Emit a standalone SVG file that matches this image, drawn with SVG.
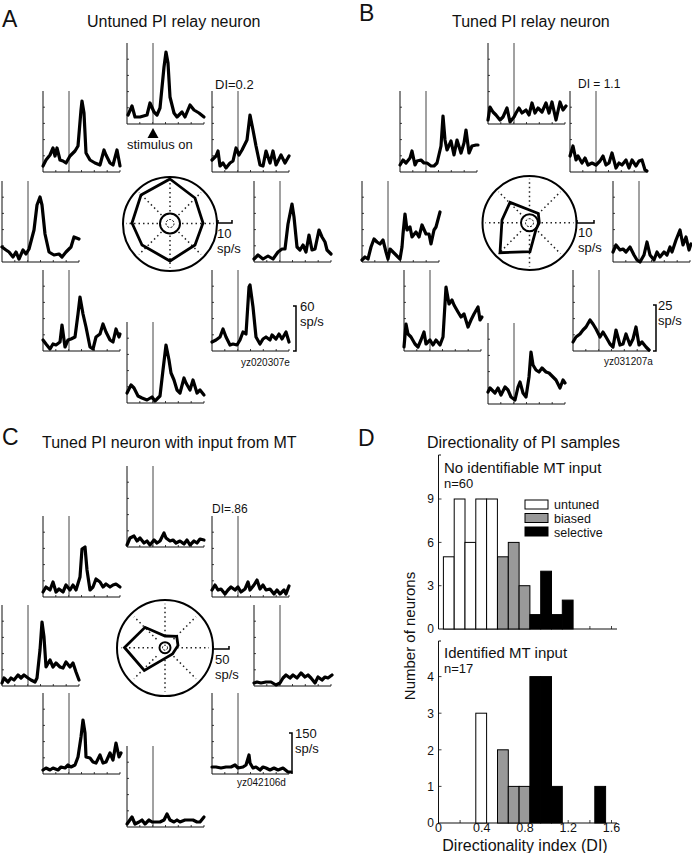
<svg xmlns="http://www.w3.org/2000/svg" xmlns:xlink="http://www.w3.org/1999/xlink" width="692" height="853" viewBox="0 0 692 853">
<style>
text{font-family:"Liberation Sans",Arial,sans-serif;fill:#111}
.big{font-size:23px}
.ttl{font-size:16px}
.lb{font-size:13px}
.sm{font-size:12px}
.id{font-size:10px}
.lg{font-size:12.5px}
.ax{fill:none;stroke:#111;stroke-width:1}
.tk{fill:none;stroke:#111;stroke-width:0.8}
.stim{fill:none;stroke:#444;stroke-width:1}
.tr{fill:none;stroke:#000;stroke-width:3.2;stroke-linejoin:round;stroke-linecap:round}
.oc{fill:none;stroke:#000;stroke-width:2}
.ic{fill:none;stroke:#000;stroke-width:2}
.dc{fill:none;stroke:#000;stroke-width:1;stroke-dasharray:2 1.5}
.dot{fill:none;stroke:#222;stroke-width:1.5;stroke-dasharray:1.5 3}
.pg{fill:none;stroke:#000;stroke-width:2.8;stroke-linejoin:miter}
.sb{fill:none;stroke:#000;stroke-width:1.5}
.bw{fill:#fff;stroke:#000;stroke-width:1}
.bg{fill:#999;stroke:#000;stroke-width:1}
.bk{fill:#000;stroke:#000;stroke-width:1}
</style>
<defs>
<g id="frame">
<path class="ax" d="M0,-81V0H77"/>
<path class="tk" d="M0,-64.8h2M0,-48.6h2M0,-32.4h2M0,-16.2h2M12.8,0v-2M25.7,0v-2M38.5,0v-2M51.3,0v-2M64.2,0v-2M77,0v-2"/>
<path class="stim" d="M26,-81V0"/>
</g>
<path id="rays" class="dot" d="M12,0H44M-12,0H-44M0,12V44M0,-12V-44M8.5,8.5L31,31M-8.5,8.5L-31,31M8.5,-8.5L31,-31M-8.5,-8.5L-31,-31"/>
</defs>

<!-- Panel A -->
<g id="panelA">
<text class="big" x="2" y="27">A</text>
<text class="ttl" x="87" y="27">Untuned PI relay neuron</text>
<g id="A-up" transform="translate(127,124)"><use xlink:href="#frame"/><polyline class="tr" points="1,-9 5,-18 8,-7 13,-7 20,-9 23,-21 27,-12 30,-9 33,-16 37,-57 39,-72 41,-61 43,-27 47,-11 50,-7 55,-12 58,-7 63,-19 67,-14 72,-11 77,-7"/></g>
<g id="A-upleft" transform="translate(43,172)"><use xlink:href="#frame"/><polyline class="tr" points="0,-6 3,-12 7,-17 10,-24 12,-16 14,-24 17,-12 20,-11 23,-9 27,-16 32,-21 35,-26 38,-62 39,-71 41,-59 43,-19 47,-12 52,-9 57,-7 61,-22 63,-17 67,-9 70,-7 74,-22 77,-6"/></g>
<g id="A-upright" transform="translate(212,172)"><use xlink:href="#frame"/><polyline class="tr" points="0,-12 4,-16 6,-21 8,-6 11,-9 14,-4 18,-9 21,-11 24,-24 27,-17 30,-22 35,-32 38,-57 41,-42 44,-26 48,-7 51,-6 54,-21 58,-9 61,-21 64,-7 69,-17 73,-9 77,-16"/></g>
<g id="A-left" transform="translate(2,262)"><use xlink:href="#frame"/><polyline class="tr" points="0,-15 4,-12 7,-10 11,-5 14,-10 17,-3 21,-12 24,-8 27,-13 32,-32 35,-57 38,-65 40,-57 43,-28 47,-10 52,-7 57,-8 60,-5 64,-10 69,-15 72,-25 77,-23"/></g>
<g id="A-right" transform="translate(254,262)"><use xlink:href="#frame"/><polyline class="tr" points="0,-3 4,-7 9,-3 14,-6 19,-3 24,-10 28,-13 31,-13 34,-38 38,-58 40,-45 43,-15 46,-12 49,-17 52,-10 55,-27 58,-12 61,-13 65,-32 68,-25 71,-20 73,-12 77,-8"/></g>
<g id="A-downleft" transform="translate(43,351)"><use xlink:href="#frame"/><polyline class="tr" points="0,-11 3,-7 7,-2 10,-7 13,-6 17,-9 19,-26 22,-4 25,-11 28,-12 32,-14 35,-37 37,-54 40,-37 43,-24 47,-4 50,-2 53,-14 57,-17 60,-27 63,-19 67,-11 70,-9 73,-22 76,-14 77,-17"/></g>
<g id="A-down" transform="translate(127,403)"><use xlink:href="#frame"/><polyline class="tr" points="0,-10 4,-18 7,-15 11,-7 15,-5 20,-3 25,-6 28,-2 33,-7 36,-33 39,-58 42,-43 44,-30 47,-23 50,-13 53,-10 57,-25 59,-20 63,-13 66,-23 70,-10 73,-13 77,-8"/></g>
<g id="A-downright" transform="translate(212,351)"><use xlink:href="#frame"/><polyline class="tr" points="0,-9 4,-11 8,-14 11,-22 14,-14 18,-6 21,-7 25,-6 28,-11 31,-19 34,-17 37,-64 38,-66 41,-44 44,-14 48,-7 51,-12 54,-14 58,-11 60,-16 64,-12 67,-17 70,-12 74,-19 77,-9"/></g>
<g id="A-polar">
<circle class="oc" cx="170" cy="224" r="47"/>
<use xlink:href="#rays" x="170" y="223.5"/>
<circle class="ic" cx="170" cy="223.5" r="10"/>
<circle class="dc" cx="170" cy="223.5" r="4"/>
<polygon class="pg" points="170,179 195,198 203,223 195,245 170,261 142,245 132,223 141,195"/>
<path class="sb" d="M218,220V223H232V220"/>
<text class="lb" x="217" y="238">10</text>
<text class="lb" x="217" y="253">sp/s</text>
</g>
<g id="A-notes">
<text class="lb" x="215" y="89">DI=0.2</text>
<polygon points="153,128 147.5,138 158.5,138" fill="#000"/>
<text class="lb" x="127" y="149">stimulus on</text>
<path class="sb" d="M293,306H296V351H293"/>
<text class="lb" x="300" y="311">60</text>
<text class="lb" x="300" y="326">sp/s</text>
<text class="id" x="241" y="366">yz020307e</text>
</g>
</g>

<!-- Panel B -->
<g id="panelB">
<text class="big" x="359" y="21">B</text>
<text class="ttl" x="452" y="27">Tuned PI relay neuron</text>
<g id="B-up" transform="translate(488,124)"><use xlink:href="#frame"/><polyline class="tr" points="0,-4 2,-17 5,-12 8,-9 12,-4 15,-7 19,-16 22,-2 26,-7 28,-11 31,-16 34,-11 38,-14 41,-9 44,-21 47,-11 50,-16 54,-12 58,-21 61,-11 64,-22 68,-4 72,-22 75,-14 78,-18"/></g>
<g id="B-upleft" transform="translate(400,172)"><use xlink:href="#frame"/><polyline class="tr" points="0,-7 3,-12 6,-9 10,-14 12,-21 15,-7 17,-11 21,-12 24,-9 27,-9 31,-6 34,-6 37,-9 41,-26 43,-56 45,-32 47,-22 51,-31 54,-17 57,-32 61,-19 64,-29 66,-42 69,-19 72,-26 76,-27 78,-27"/></g>
<g id="B-upright" transform="translate(570,172)"><use xlink:href="#frame"/><polyline class="tr" points="0,-16 3,-26 6,-12 8,-16 12,-9 15,-14 18,-7 22,-9 26,-7 30,-11 33,-16 36,-7 39,-9 42,-19 46,-4 49,-9 52,-7 56,-12 59,-4 62,-12 66,-6 69,-11 72,-12 75,-2 77,-1"/></g>
<g id="B-left" transform="translate(362,262)"><use xlink:href="#frame"/><polyline class="tr" points="0,-2 3,-5 6,-3 9,-15 12,-23 15,-20 18,-18 21,-22 24,-10 26,-3 28,-13 31,-10 34,-7 38,-3 40,-15 41,-28 43,-48 45,-32 48,-35 50,-25 54,-30 57,-25 60,-37 64,-28 67,-28 69,-18 72,-32 74,-35 78,-50"/></g>
<g id="B-right" transform="translate(613,262)"><use xlink:href="#frame"/><polyline class="tr" points="0,-10 3,-17 7,-12 10,-13 13,-10 17,-15 21,-7 24,-2 27,0 31,-7 34,-20 37,-7 41,-2 44,-10 47,-5 51,-10 54,-7 57,-15 59,-10 63,-22 67,-32 70,-17 73,-25 76,-12 78,-18"/></g>
<g id="B-downleft" transform="translate(404,351)"><use xlink:href="#frame"/><polyline class="tr" points="0,-4 2,-27 4,-17 7,-14 11,-7 14,-4 17,-11 20,-19 22,-7 26,-11 29,-6 32,-11 36,-6 39,-14 42,-64 45,-47 48,-51 50,-46 54,-39 57,-34 60,-37 64,-24 67,-31 70,-37 74,-44 76,-31 78,-34"/></g>
<g id="B-down" transform="translate(488,404)"><use xlink:href="#frame"/><polyline class="tr" points="0,-12 2,-16 7,-11 10,-16 13,-9 17,-17 20,-14 23,-7 27,-4 30,-17 32,-22 35,-11 38,-7 41,-27 43,-52 45,-39 48,-34 51,-32 54,-36 58,-32 61,-31 65,-27 68,-24 72,-16 75,-24 77,-21"/></g>
<g id="B-downright" transform="translate(573,351)"><use xlink:href="#frame"/><polyline class="tr" points="0,-9 3,-14 7,-17 10,-21 13,-24 17,-31 20,-27 23,-22 27,-14 30,-19 33,-14 37,-7 40,-4 43,-21 47,-6 50,-7 53,-17 57,-6 60,-12 63,-24 66,-6 69,-9 73,-4 76,-1"/></g>
<g id="B-polar">
<circle class="oc" cx="529.5" cy="223" r="47"/>
<use xlink:href="#rays" x="529.5" y="222.7"/>
<circle class="ic" cx="529.5" cy="222.7" r="8.5"/>
<circle class="dc" cx="529.5" cy="222.7" r="4"/>
<polygon class="pg" points="529.5,210 538.3,213.4 539.3,222.7 536,229.5 530,251.7 500,252.7 502,220 510,202.4"/>
<path class="sb" d="M577,220V223H594V220"/>
<text class="lb" x="578" y="237">10</text>
<text class="lb" x="578" y="252">sp/s</text>
</g>
<g id="B-notes">
<text class="sm" x="578" y="88">DI = 1.1</text>
<path class="sb" d="M653,305H656V351H653"/>
<text class="lb" x="658" y="310">25</text>
<text class="lb" x="658" y="325">sp/s</text>
<text class="id" x="604" y="365">yz031207a</text>
</g>
</g>

<!-- Panel C -->
<g id="panelC">
<text class="big" x="2" y="445">C</text>
<text class="ttl" x="42" y="448">Tuned PI neuron with input from MT</text>
<g id="C-up" transform="translate(127,547)"><use xlink:href="#frame"/><polyline class="tr" points="0,-2 3,-9 7,-11 10,-6 13,-9 17,-4 20,-6 23,-2 27,-7 30,-4 33,-6 37,-14 39,-9 43,-6 46,-7 49,-4 53,-6 57,-3 60,-7 63,-2 67,-6 70,-4 73,-8 77,-7"/></g>
<g id="C-upleft" transform="translate(43,597)"><use xlink:href="#frame"/><polyline class="tr" points="0,-5 3,-10 7,-7 10,-15 13,-5 16,-8 20,-5 23,-12 27,-7 30,-12 33,-7 37,-20 39,-48 42,-50 44,-27 47,-7 50,-10 53,-18 57,-15 60,-10 63,-13 67,-10 70,-12 73,-13 77,-10"/></g>
<g id="C-upright" transform="translate(212,597)"><use xlink:href="#frame"/><polyline class="tr" points="0,-7 3,-12 6,-7 9,-8 13,-3 16,-7 19,-10 23,-7 26,-10 29,-5 33,-8 36,-15 38,-7 42,-12 45,-17 48,-8 51,-12 54,-7 58,-8 62,-3 65,-7 68,-3 72,-7 74,-3 77,-11"/></g>
<g id="C-left" transform="translate(2,686)"><use xlink:href="#frame"/><polyline class="tr" points="0,-3 2,-8 6,-4 9,-8 12,-6 16,-11 19,-8 22,-11 26,-8 29,-6 33,-4 35,-8 38,-36 40,-64 42,-49 44,-19 48,-26 51,-19 54,-23 58,-19 61,-18 64,-24 68,-19 71,-23 74,-14 77,-6"/></g>
<g id="C-right" transform="translate(254,686)"><use xlink:href="#frame"/><polyline class="tr" points="0,-3 3,-4 7,-3 12,-4 17,-4 22,-1 26,-3 29,-8 32,-11 36,-8 39,-11 43,-8 47,-13 51,-9 54,-11 57,-8 61,-3 64,-9 68,-6 71,-9 74,-8 78,-11"/></g>
<g id="C-downleft" transform="translate(43,774)"><use xlink:href="#frame"/><polyline class="tr" points="0,-4 3,-6 7,-4 10,-6 15,-4 18,-7 22,-6 25,-9 28,-7 32,-9 35,-17 38,-37 40,-54 42,-41 43,-17 47,-16 50,-12 53,-11 57,-19 60,-11 63,-12 67,-21 70,-14 73,-31 76,-17 78,-21"/></g>
<g id="C-down" transform="translate(127,827)"><use xlink:href="#frame"/><polyline class="tr" points="0,-3 5,-10 8,-3 12,-5 15,-7 18,-3 22,-7 25,-5 28,-5 33,-5 37,-7 40,-13 43,-7 47,-5 50,-7 53,-5 58,-7 62,-7 66,-7 70,-5 73,-5 77,-10"/></g>
<g id="C-downright" transform="translate(212,774)"><use xlink:href="#frame"/><polyline class="tr" points="0,-7 4,-7 9,-6 14,-7 19,-7 23,-9 26,-6 31,-7 34,-9 37,-19 38,-11 41,-6 44,-7 48,-4 51,-7 54,-6 58,-4 62,-6 66,-4 71,-6 76,-2 79,-2"/></g>
<g id="C-polar">
<circle class="oc" cx="165" cy="648" r="48"/>
<use xlink:href="#rays" x="165" y="647.7"/>
<circle class="ic" cx="165" cy="647.7" r="5.5"/>
<circle class="dc" cx="165" cy="647.7" r="2.5"/>
<polygon class="pg" points="165,636 176.7,636.3 178,645.5 172.5,654 165,658.4 144.3,670.5 124.5,647.5 145,627.3"/>
<path class="sb" d="M213,646V649H229V646"/>
<text class="lb" x="215" y="664">50</text>
<text class="lb" x="215" y="679">sp/s</text>
</g>
<g id="C-notes">
<text class="sm" x="212" y="513">DI=.86</text>
<path class="sb" d="M289,733H292V774"/>
<text class="lb" x="295" y="738">150</text>
<text class="lb" x="295" y="753">sp/s</text>
<text class="id" x="237" y="786">yz042106d</text>
</g>
</g>

<!-- Panel D -->
<g id="panelD">
<text class="big" x="358" y="446">D</text>
<text class="ttl" x="427" y="448">Directionality of PI samples</text>
<text style="font-size:15px" transform="translate(415,636) rotate(-90)" text-anchor="middle">Number of neurons</text>
<g id="D-top">
<path class="ax" d="M441,455H438.5V629H617"/>
<path class="tk" d="M438.5,499h3M438.5,542.4h3M438.5,585.7h3M460.1,629v-3M481.7,629v-3M503.4,629v-3M525,629v-3M546.6,629v-3M568.2,629v-3M589.9,629v-3M611.5,629v-3"/>
<rect class="bw" x="443.4" y="556.8" width="10.8" height="72.2"/>
<rect class="bw" x="454.2" y="499" width="10.8" height="130"/>
<rect class="bw" x="465" y="542.4" width="10.8" height="86.6"/>
<rect class="bw" x="475.8" y="499" width="10.8" height="130"/>
<rect class="bw" x="486.6" y="499" width="10.8" height="130"/>
<rect class="bg" x="497.5" y="556.8" width="10.8" height="72.2"/>
<rect class="bg" x="508.3" y="542.4" width="10.8" height="86.6"/>
<rect class="bg" x="519.1" y="585.7" width="10.8" height="43.3"/>
<rect class="bk" x="529.9" y="614.6" width="10.8" height="14.4"/>
<rect class="bk" x="540.7" y="571.2" width="10.8" height="57.8"/>
<rect class="bk" x="551.5" y="614.6" width="10.8" height="14.4"/>
<rect class="bk" x="562.3" y="600.1" width="10.8" height="28.9"/>
<text class="sm" x="434" y="503" text-anchor="end">9</text>
<text class="sm" x="434" y="547" text-anchor="end">6</text>
<text class="sm" x="434" y="590" text-anchor="end">3</text>
<text class="sm" x="434" y="633" text-anchor="end">0</text>
<text style="font-size:15px" x="444" y="473">No identifiable MT input</text>
<text class="lb" x="444" y="488">n=60</text>
<rect class="bw" x="525" y="500" width="23" height="9"/>
<rect class="bg" x="525" y="513.5" width="23" height="9"/>
<rect class="bk" x="525" y="527" width="23" height="9"/>
<text class="lg" x="554" y="508.5">untuned</text>
<text class="lg" x="554" y="522.5">biased</text>
<text class="lg" x="554" y="536.5">selective</text>
</g>
<g id="D-bottom">
<path class="ax" d="M441,641H438.5V823H617"/>
<path class="tk" d="M438.5,676.6h3M438.5,713.2h3M438.5,749.8h3M438.5,786.4h3M460.1,823v-3M481.7,823v-3M503.4,823v-3M525,823v-3M546.6,823v-3M568.2,823v-3M589.9,823v-3M611.5,823v-3"/>
<rect class="bw" x="475.8" y="713.2" width="10.8" height="109.8"/>
<rect class="bg" x="497.5" y="749.8" width="10.8" height="73.2"/>
<rect class="bg" x="508.3" y="786.4" width="10.8" height="36.6"/>
<rect class="bg" x="519.1" y="786.4" width="10.8" height="36.6"/>
<rect class="bk" x="529.9" y="676.6" width="10.8" height="146.4"/>
<rect class="bk" x="540.7" y="676.6" width="10.8" height="146.4"/>
<rect class="bk" x="551.5" y="786.4" width="10.8" height="36.6"/>
<rect class="bk" x="594.8" y="786.4" width="10.8" height="36.6"/>
<text class="sm" x="434" y="681" text-anchor="end">4</text>
<text class="sm" x="434" y="718" text-anchor="end">3</text>
<text class="sm" x="434" y="755" text-anchor="end">2</text>
<text class="sm" x="434" y="791" text-anchor="end">1</text>
<text class="sm" x="434" y="827" text-anchor="end">0</text>
<text style="font-size:15px" x="444" y="658">Identified MT input</text>
<text class="lb" x="444" y="673">n=17</text>
<text style="font-size:12.5px" x="438.5" y="832" text-anchor="middle">0</text>
<text style="font-size:12.5px" x="481.7" y="832" text-anchor="middle">0.4</text>
<text style="font-size:12.5px" x="525" y="832" text-anchor="middle">0.8</text>
<text style="font-size:12.5px" x="568.2" y="832" text-anchor="middle">1.2</text>
<text style="font-size:12.5px" x="611.5" y="832" text-anchor="middle">1.6</text>
<text class="ttl" x="525" y="850.5" text-anchor="middle">Directionality index (DI)</text>
</g>
</g>
</svg>
